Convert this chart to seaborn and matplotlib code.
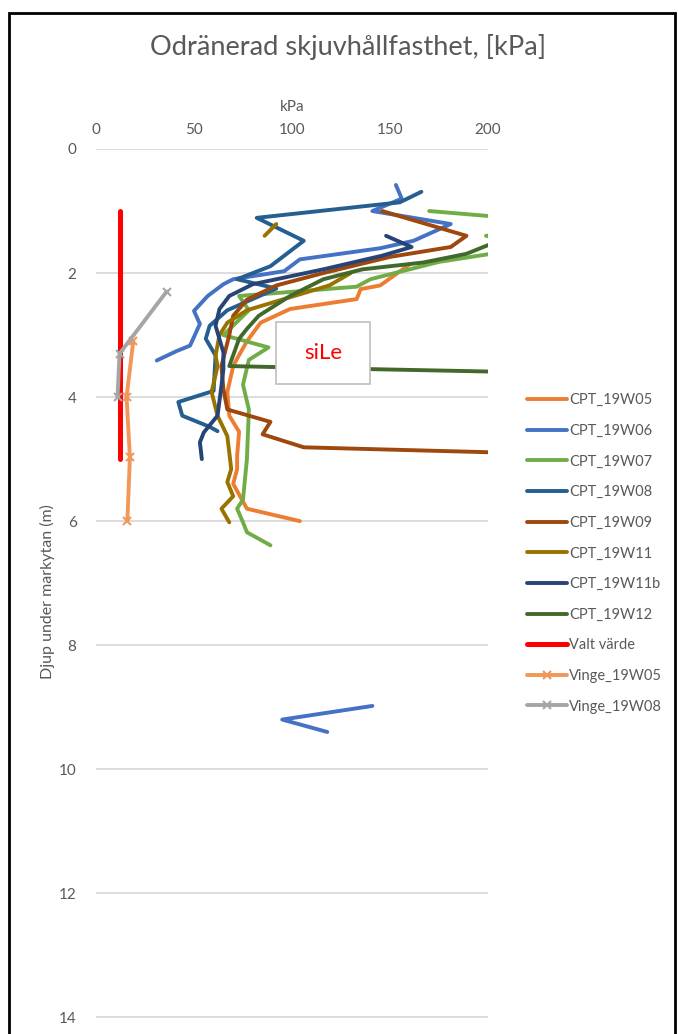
import numpy as np
import pandas as pd
import matplotlib.pyplot as plt
import seaborn as sns
from matplotlib.patches import Rectangle
from matplotlib.lines import Line2D

nan = np.nan

# Serier: hållfasthet [kPa] och djup [m]; NaN = avbrott i linjen
names = ['CPT_19W05', 'CPT_19W06', 'CPT_19W07', 'CPT_19W08', 'CPT_19W09',
         'CPT_19W11', 'CPT_19W11b', 'CPT_19W12', 'Valt värde',
         'Vinge_19W05', 'Vinge_19W08']

k_19w05 = [160, 145, 135, 133, 99, 84, 77, 72, 70, 67, 68, 73, 72, 72, 70, 77, 104]
d_19w05 = [1.86, 2.2, 2.26, 2.42, 2.58, 2.8, 3.1, 3.38, 3.5, 3.92, 4.3, 4.56, 4.95, 5.16, 5.4, 5.8, 6.0]

k_19w06 = [153, 156, 141, 181, 162, 145, 104, 96, 70, 65, 57, 50, 53, 48, 41, 31, nan, 141, 95, 118]
d_19w06 = [0.58, 0.8, 1.0, 1.21, 1.48, 1.6, 1.78, 1.97, 2.1, 2.18, 2.37, 2.61, 2.82, 3.17, 3.26, 3.41, nan, 8.98, 9.2, 9.4]

k_19w07 = [170, 215, 230, 199, 230, 175, 140, 133, 73, 78, 65, 88, 78, 75, 78, 77, 75, 72, 75, 77, 89]
d_19w07 = [1.0, 1.12, 1.3, 1.4, 1.55, 1.82, 2.1, 2.22, 2.37, 2.6, 3.0, 3.2, 3.4, 3.8, 4.2, 5.0, 5.65, 5.8, 6.02, 6.18, 6.39]

k_19w08 = [166, 155, 82, 106, 89, 72, 92, 67, 58, 56, 61, 60, 42, 44, 58, 62]
d_19w08 = [0.69, 0.86, 1.11, 1.48, 1.89, 2.1, 2.25, 2.6, 2.85, 3.06, 3.33, 3.9, 4.08, 4.3, 4.48, 4.55]

k_19w09 = [146, 189, 181, 150, 116, 92, 77, 70, 68, 64, 65, 67, 89, 85, 106, 260]
d_19w09 = [1.0, 1.4, 1.58, 1.74, 2.0, 2.2, 2.43, 2.69, 3.0, 3.5, 3.87, 4.2, 4.4, 4.6, 4.81, 4.94]

k_19w11 = [86, 92, nan, 130, 119, 99, 77, 67, 63, 61, 62, 59, 62, 67, 69, 67, 70, 64, 68]
d_19w11 = [1.4, 1.21, nan, 2.0, 2.2, 2.39, 2.6, 2.8, 3.0, 3.33, 3.5, 3.92, 4.3, 4.63, 5.16, 5.37, 5.6, 5.8, 6.02]

k_19w11b = [148, 161, 146, 116, 80, 68, 63, 61, 65, 65, 64, 62, 55, 53, 54]
d_19w11b = [1.4, 1.58, 1.72, 1.94, 2.18, 2.37, 2.58, 2.85, 3.28, 3.55, 3.82, 4.3, 4.57, 4.73, 5.0]

k_19w12 = [220, 200, 189, 167, 136, 116, 99, 83, 77, 73, 68, 141, 250]
d_19w12 = [1.42, 1.55, 1.69, 1.83, 1.94, 2.1, 2.37, 2.69, 2.9, 3.06, 3.5, 3.55, 3.62]

k_valt = [12, 12]
d_valt = [1.0, 5.0]

k_vinge05 = [19, 15.6, 17.3, 16]
d_vinge05 = [3.1, 4.0, 4.97, 6.0]

k_vinge08 = [36, 12, 11]
d_vinge08 = [2.3, 3.3, 4.0]

kpa = [k_19w05, k_19w06, k_19w07, k_19w08, k_19w09, k_19w11, k_19w11b, k_19w12,
       k_valt, k_vinge05, k_vinge08]
djup = [d_19w05, d_19w06, d_19w07, d_19w08, d_19w09, d_19w11, d_19w11b, d_19w12,
        d_valt, d_vinge05, d_vinge08]

colors = ['#ED7D31', '#4472C4', '#70AD47', '#255E91', '#9E480E', '#997300',
          '#264478', '#43682B', '#FF0000', '#F1975A', '#A5A5A5']
markers = [None] * 9 + ['x', 'x']
widths = [2.8] * 8 + [3.6, 2.8, 2.8]

x_ticks = [0, 50, 100, 150, 200]
y_ticks = [0, 2, 4, 6, 8, 10, 12, 14]

sns.set_style('white')
plt.rcParams['font.family'] = ['Lato', 'DejaVu Sans']
grey = '#595959'

fig = plt.figure(figsize=(6.78, 10.34), dpi=100)
ax = fig.add_axes([96 / 678, 0, (488 - 96) / 678, 1 - 149 / 1034])

handles = []
for name, k, d, c, m, w in zip(names, kpa, djup, colors, markers, widths):
    df = pd.DataFrame({'kPa': k, 'Djup': d})
    df['seg'] = df['kPa'].isna().cumsum()
    df = df.dropna()
    for _, sub in df.groupby('seg'):
        sns.lineplot(data=sub, x='kPa', y='Djup', sort=False, estimator=None,
                     color=c, linewidth=w, marker=m, markersize=6,
                     markeredgewidth=1.5, markeredgecolor=c, ax=ax)
    handles.append(Line2D([], [], color=c, linewidth=w, marker=m,
                          markersize=6, markeredgewidth=1.5, label=name))

ax.set_xlim(0, 200)
ax.set_ylim(14.27, 0)
ax.set_xticks(x_ticks)
ax.set_yticks(y_ticks)
ax.xaxis.tick_top()
ax.xaxis.set_label_position('top')
ax.tick_params(axis='both', length=0, labelsize=11, colors=grey)
ax.tick_params(axis='x', pad=9)
ax.tick_params(axis='y', pad=14)
ax.grid(axis='y', color='#D9D9D9', linewidth=1.3)
ax.grid(axis='x', visible=False)
for s in ax.spines.values():
    s.set_visible(False)
ax.set_xlabel('kPa', fontsize=11, color=grey, labelpad=8)
ax.set_ylabel('Djup under markytan (m)', fontsize=11.5, color=grey, labelpad=3)

# textruta
ax.add_patch(Rectangle((92, 2.79), 48, 1.0, facecolor='white', edgecolor='#BFBFBF',
                       linewidth=1.2, zorder=10))
ax.text(116, 3.29, 'siLe', color='red', fontsize=16, ha='center', va='center', zorder=11)

fig.text(0.513, 1 - 47 / 1034, 'Odränerad skjuvhållfasthet, [kPa]', ha='center',
         va='center', fontsize=19.6, color=grey)

fig.legend(handles=handles, loc='upper left', bbox_to_anchor=(520 / 678, 1 - 386 / 1034),
           frameon=False, fontsize=10.5, labelcolor=grey, handlelength=2.75,
           handletextpad=0.12, labelspacing=1.14, borderpad=0)

# ram runt diagrammet
fig.add_artist(Rectangle((9 / 678, -0.05), 666 / 678, 1.05 - 13 / 1034, transform=fig.transFigure,
                         fill=False, edgecolor='black', linewidth=2.0))

fig.savefig('out.png', dpi=100)
